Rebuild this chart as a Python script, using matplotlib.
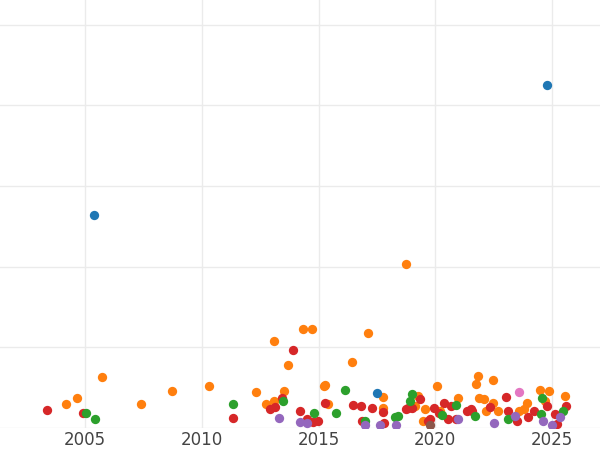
import matplotlib
matplotlib.use("Agg")
import matplotlib.pyplot as plt

# pixel-read values converted: year, value
def conv(pts):
    return [2005 + (px - 85) / 23.35 for px, py in pts], [(427 - py) / 4.025 for px, py in pts]

blue_px = [(547,85),(94,214),(377,392)]
orange_px = [(102,376),(66,403),(77,397),(141,403),(172,390),(209,385),(256,391),(274,340),(303,328),(312,328),
             (288,364),(284,390),(266,403),(274,400),(324,385),(325,384),(328,403),(368,332),(352,361),(406,263),
             (383,396),(383,407),(437,385),(478,375),(476,383),(493,379),(479,397),(484,398),(493,402),(486,410),
             (458,397),(415,405),(425,408),(540,389),(549,390),(565,395),(527,402),(545,400),(524,408),(519,410),
             (423,420),(440,410),(498,410),(418,395)]
red_px = [(47,409),(83,412),(233,417),(293,349),(282,397),(270,408),(275,406),(300,410),(313,421),(325,402),
          (353,404),(361,405),(362,420),(372,407),(383,411),(384,422),(408,407),(420,398),(412,407),(406,408),
          (434,407),(444,402),(451,405),(448,418),(456,418),(467,410),(472,410),(471,408),(490,406),(506,396),
          (508,410),(517,420),(528,416),(534,410),(547,405),(555,413),(566,405),(557,423),(439,412),(430,418),
          (428,420),(318,420),(307,418)]
green_px = [(86,412),(95,418),(233,403),(283,400),(314,412),(336,412),(345,389),(412,393),(395,416),(398,415),
            (442,414),(456,404),(475,415),(508,418),(542,397),(541,413),(563,410),(365,420),(410,400)]
purple_px = [(279,417),(300,421),(307,422),(365,424),(380,424),(396,424),(458,418),(494,422),(515,415),
             (543,420),(552,424),(560,416)]
pink_px = [(519,391)]
brown_px = [(430,424)]

series = [(orange_px,'#ff7f0e'),(red_px,'#d62728'),(green_px,'#2ca02c'),(purple_px,'#9467bd'),
          (blue_px,'#1f77b4'),(pink_px,'#e377c2'),(brown_px,'#8c564b')]

fig = plt.figure(figsize=(6, 4.5), dpi=100)
ax = fig.add_axes([0, 22/450, 1, 428/450])
for pts, c in series:
    x, y = conv(pts)
    ax.scatter(x, y, s=45, color=c, linewidths=0, zorder=3)
ax.set_xlim(2005 - 85/23.35, 2005 + 515/23.35)
ax.set_ylim(0, 427/4.025)
ax.set_xticks([2005, 2010, 2015, 2020, 2025])
ax.set_yticks([0, 20, 40, 60, 80, 100])
ax.grid(True, color='#ebebeb', linewidth=1, zorder=0)
ax.tick_params(axis='y', left=False, labelleft=False)
ax.tick_params(axis='x', length=0, labelsize=12, labelcolor='#444444', pad=2)
for s in ax.spines.values():
    s.set_visible(False)
fig.savefig("out.png", dpi=100)
